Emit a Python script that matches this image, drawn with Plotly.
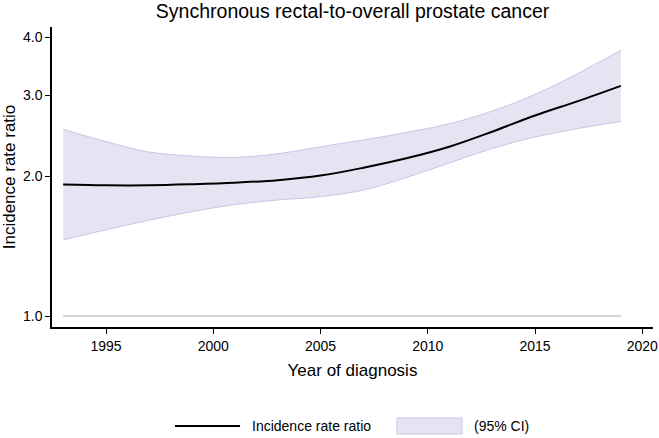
import plotly.graph_objects as go

years = [1993, 1995, 1997, 1999, 2001, 2003, 2005, 2007, 2009, 2011, 2013, 2015, 2017, 2019]
irr = [1.923, 1.915, 1.915, 1.925, 1.94, 1.965, 2.01, 2.09, 2.19, 2.32, 2.50, 2.71, 2.91, 3.14]
upper = [2.53, 2.38, 2.26, 2.215, 2.20, 2.24, 2.32, 2.40, 2.49, 2.60, 2.77, 3.01, 3.34, 3.75]
lower = [1.46, 1.535, 1.61, 1.68, 1.74, 1.78, 1.81, 1.87, 1.99, 2.14, 2.30, 2.435, 2.54, 2.63]
ref_years = [1993, 2019]
ref_vals = [1.0, 1.0]
x_ticks = [1995, 2000, 2005, 2010, 2015, 2020]
y_ticks = [1, 2, 3, 4]
y_ticktext = ["1.0", "2.0", "3.0", "4.0"]
legend_labels = ["Incidence rate ratio", "(95% CI)"]

FONT = "Liberation Sans, Arial, sans-serif"
BAND_LINE = "#c9c5e8"
BAND_FILL = "#e6e4f3"

fig = go.Figure()
fig.add_trace(go.Scatter(x=ref_years, y=ref_vals, mode="lines",
                         line=dict(color="#c8c8c8", width=1.5),
                         showlegend=False, hoverinfo="skip"))
fig.add_trace(go.Scatter(x=years, y=lower, mode="lines",
                         line=dict(color=BAND_LINE, width=1, shape="spline", smoothing=1),
                         showlegend=False, hoverinfo="skip"))
fig.add_trace(go.Scatter(x=years, y=upper, mode="lines",
                         line=dict(color=BAND_LINE, width=1, shape="spline", smoothing=1),
                         fill="tonexty", fillcolor=BAND_FILL, name=legend_labels[1], showlegend=False))
fig.add_trace(go.Scatter(x=years, y=irr, mode="lines",
                         line=dict(color="black", width=2, shape="spline", smoothing=1),
                         name=legend_labels[0], showlegend=False))

# Custom legend (paper coordinates) to match the reference layout
W, H = 601.0, 300.0  # plot area size in px
def px_x(p):
    return (p - 52) / W
def px_y(p):
    return (327 - p) / H

fig.add_shape(type="line", xref="paper", yref="paper",
              x0=px_x(175), x1=px_x(240), y0=px_y(426), y1=px_y(426),
              line=dict(color="black", width=2))
fig.add_shape(type="rect", xref="paper", yref="paper",
              x0=px_x(397), x1=px_x(462), y0=px_y(418), y1=px_y(434),
              line=dict(color=BAND_LINE, width=1), fillcolor=BAND_FILL)
fig.add_annotation(xref="paper", yref="paper", x=px_x(250), y=px_y(426), text=legend_labels[0],
                   showarrow=False, xanchor="left", yanchor="middle", font=dict(size=14))
fig.add_annotation(xref="paper", yref="paper", x=px_x(472), y=px_y(426), text=legend_labels[1],
                   showarrow=False, xanchor="left", yanchor="middle", font=dict(size=14))

fig.update_layout(
    width=659, height=438,
    margin=dict(l=52, r=6, t=27, b=111, autoexpand=False),
    paper_bgcolor="white", plot_bgcolor="white",
    font=dict(family=FONT, size=14, color="black"),
    title=dict(text="Synchronous rectal-to-overall prostate cancer", x=0.535, xanchor="center",
               y=0.975, yanchor="middle", font=dict(size=19.5)),
    showlegend=False,
)
fig.update_xaxes(range=[1992.48, 2020.5], tickvals=x_ticks, ticks="outside", ticklen=5,
                 tickcolor="black", showline=True, linecolor="black", linewidth=1.5,
                 showgrid=False, zeroline=False,
                 title=dict(text="Year of diagnosis", standoff=12), tickfont=dict(size=14))
fig.update_yaxes(type="log", range=[-0.0237, 0.624], tickvals=y_ticks, ticktext=y_ticktext,
                 ticks="outside", ticklen=5, tickcolor="black", showline=True, linecolor="black",
                 linewidth=1.5, showgrid=False, zeroline=False,
                 title=dict(text="Incidence rate ratio", standoff=8), tickfont=dict(size=14))

fig.write_html("out.html")
